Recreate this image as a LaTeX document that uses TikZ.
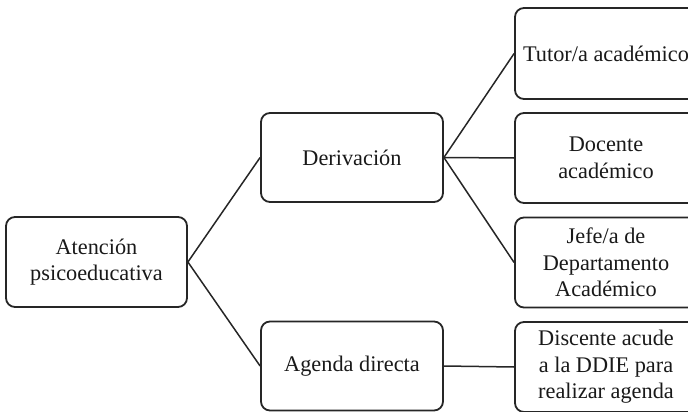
\documentclass[tikz,border=0pt]{standalone}
\usepackage{fontspec}
\setmainfont{Liberation Serif}
\begin{document}
\begin{tikzpicture}[x=1pt,y=-1pt,
  box/.style={draw=black!85, line width=1.8pt, rounded corners=9pt, align=center,
    inner sep=2pt, font=\fontsize{22.3}{26.5}\selectfont, text=black!90},
  link/.style={draw=black!85, line width=1.5pt}]
\useasboundingbox (0,0) rectangle (688,412);
\clip (0,0) rectangle (688,412);
\node[box, minimum width=181pt, minimum height=90pt] (aten) at (96.5,262) {Atención\\psicoeducativa};
\node[box, minimum width=182pt, minimum height=89pt] (deriv) at (352,157.5) {Derivación};
\node[box, minimum width=182pt, minimum height=89pt] (agenda) at (352,366) {Agenda directa};
\node[box, minimum width=182pt, minimum height=91pt] (tutor) at (606,53.5) {Tutor/a académico};
\node[box, minimum width=182pt, minimum height=90pt] (docente) at (606,158) {Docente\\académico};
\node[box, minimum width=182pt, minimum height=90pt] (jefe) at (606,262.5) {Jefe/a de\\Departamento\\Académico};
\node[box, minimum width=182pt, minimum height=90pt] (disc) at (606,367) {Discente acude\\a la DDIE para\\realizar agenda};
\draw[link] (aten.east) -- (deriv.west);
\draw[link] (aten.east) -- (agenda.west);
\draw[link] (deriv.east) -- (tutor.west);
\draw[link] (deriv.east) -- (docente.west);
\draw[link] (deriv.east) -- (jefe.west);
\draw[link] (agenda.east) -- (disc.west);
\end{tikzpicture}
\end{document}
